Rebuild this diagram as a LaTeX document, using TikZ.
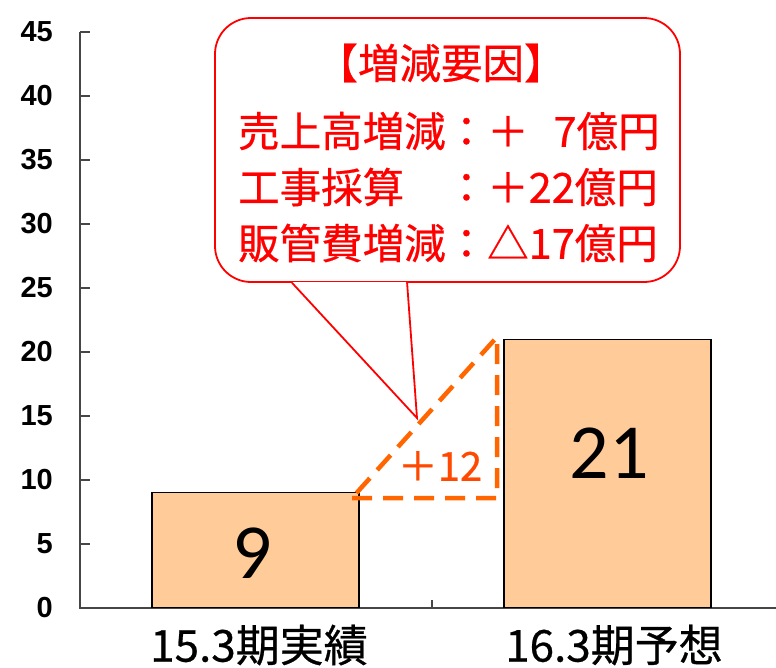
\documentclass[tikz,border=0pt]{standalone}
\usepackage{fontspec}
\usepackage{tikz}
\usetikzlibrary{positioning, calc}
\newfontfamily\jpfont[FakeBold=0.6]{Noto Sans CJK JP}
\newfontfamily\axisfont{Liberation Sans}
\newfontfamily\numfont{Carlito}
\definecolor{barfill}{RGB}{255,204,153}
\definecolor{dashorange}{RGB}{255,102,0}
\definecolor{diffred}{RGB}{255,72,0}
\definecolor{axisgray}{RGB}{70,70,70}

\begin{document}
\begin{tikzpicture}[x=1pt, y=-1pt,
  bar/.style={draw=black, line width=1.5pt, fill=barfill, minimum width=207pt,
    inner sep=0pt, anchor=south},
  barval/.style={font=\numfont\fontsize{78}{80}\selectfont},
  catlabel/.style={font=\jpfont\fontsize{44}{48}\selectfont},
  ticklabel/.style={anchor=east, inner sep=0pt, font=\axisfont\bfseries\fontsize{29}{30}\selectfont},
  callout/.style={draw=red, line width=1.8pt, rounded corners=36pt, fill=white,
    minimum width=465pt, minimum height=264pt},
  notetext/.style={anchor=west, inner sep=0pt, text=red, font=\jpfont\fontsize{41.5}{44}\selectfont},
  diff/.style={dashorange, dashed, dash pattern=on 20pt off 11pt, line width=4.5pt}
]
\useasboundingbox (0,0) rectangle (776,667);

% axes
\draw[axisgray, line width=1.3pt] (80,32) -- (80,608) -- (776,608);
\foreach \v in {0,5,...,45} {
  \draw[axisgray, line width=1.3pt] (80,608-12.8*\v) -- (90,608-12.8*\v);
  \node[ticklabel] (tick\v) at (53,608-12.8*\v) {\v};
}
\draw[axisgray, line width=1.3pt] (432,600) -- (432,608);

% bars
\node[bar, minimum height=115pt] (bar15) at (255.5,608) {};
\node[bar, minimum height=268pt] (bar16) at (607.5,608) {};
\node[barval] (val15) at (252,553) {9};
\node[barval] (val16) at (609,453) {21};
\node[catlabel] (cat15) at (259,645) {15.3期実績};
\node[catlabel] (cat16) at (614,645) {16.3期予想};

% increase triangle
\coordinate (lowleft) at (352,498);
\coordinate (lowright) at (497,498);
\coordinate (topright) at (497,337);
\draw[diff] (lowleft) -- (lowright) -- (topright) -- cycle;
\node[text=diffred, font=\jpfont\fontsize{40}{44}\selectfont] (plus12) at (440,466) {＋12};

% callout
\node[callout] (note) at (447.5,150) {};
\coordinate (tip) at (417,418);
\coordinate (baseL) at ($(note.south west)+(78,0)$);
\coordinate (baseR) at ($(note.south west)+(193,0)$);
\fill[white] (baseL) -- (tip) -- (baseR) -- cycle;
\draw[white, line width=2.5pt] ($(baseL)+(1,0)$) -- ($(baseR)+(-1,0)$);
\draw[red, line width=1.8pt] (baseL) -- (tip) -- (baseR);
\node[notetext, anchor=center] (head) at (441,63) {【増減要因】};
\node[notetext] (line1) at (238,131) {売上高増減：＋\hspace{0.6em}7億円};
\node[notetext] (line2) at (238,187) {工事採算　：＋22億円};
\node[notetext] (line3) at (238,243) {販管費増減：△17億円};

\end{tikzpicture}
\end{document}
